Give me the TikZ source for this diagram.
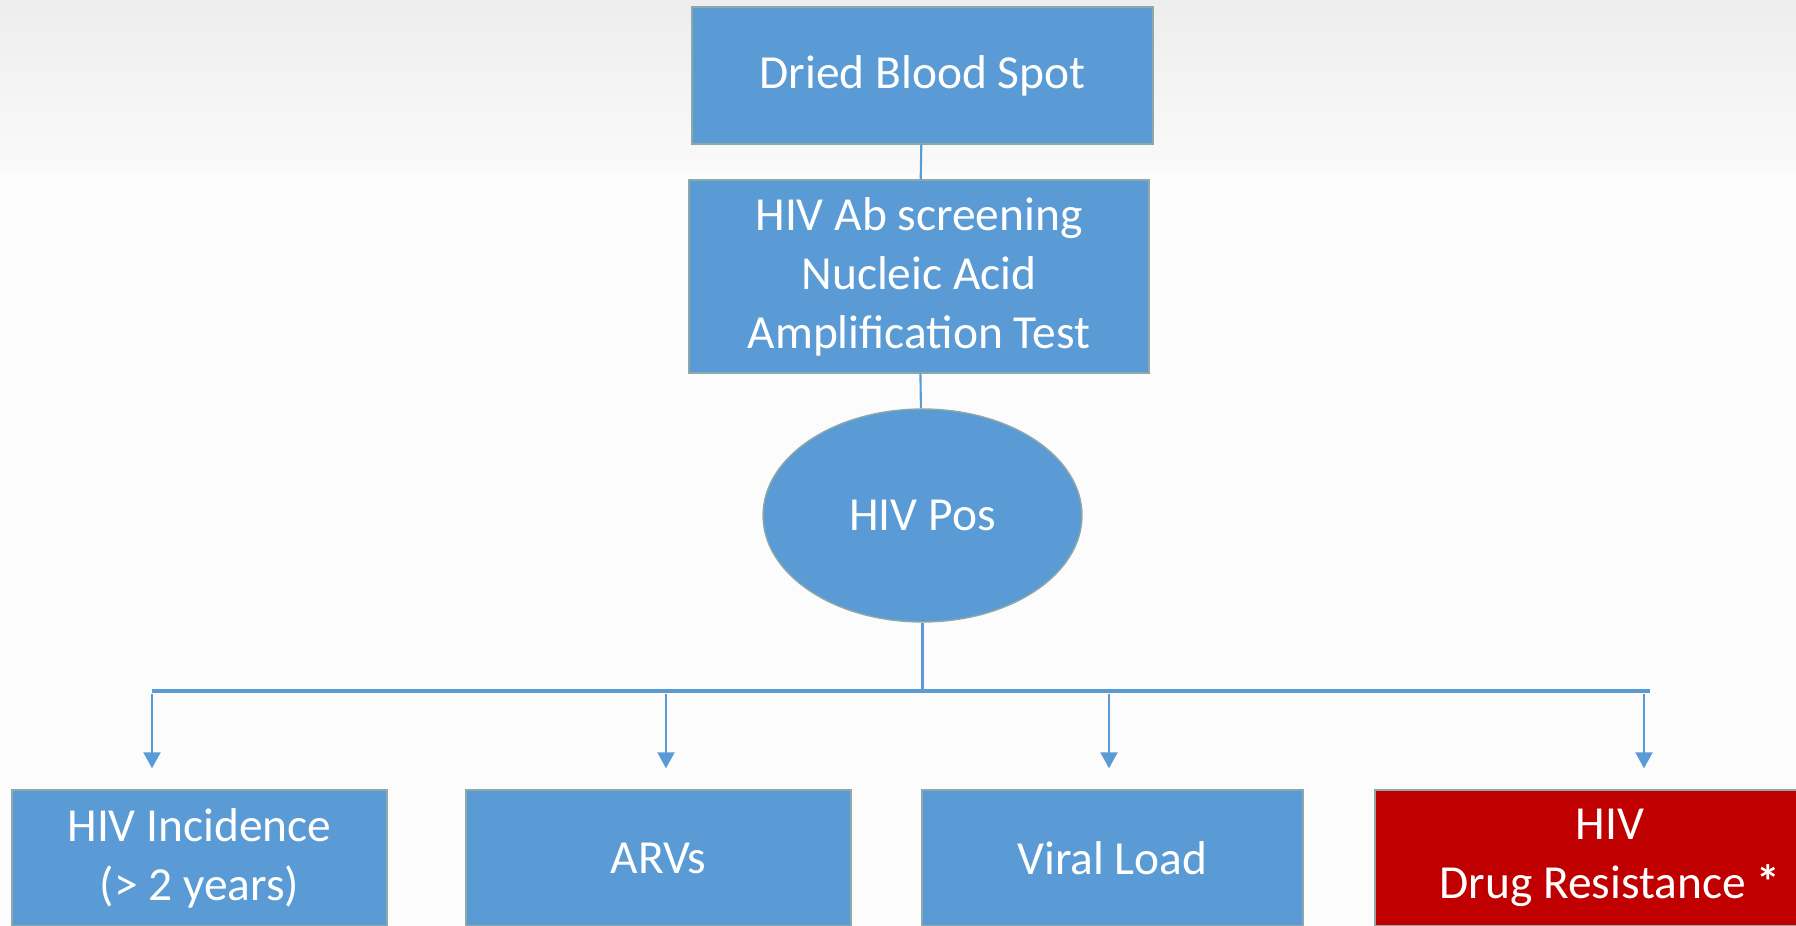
\documentclass[tikz,border=0pt]{standalone}
\usepackage{fontspec}
\setmainfont{Carlito}
\usepackage{tikz}
\usetikzlibrary{shapes,arrows.meta}
\definecolor{boxblue}{RGB}{91,155,213}
\definecolor{boxred}{RGB}{192,0,0}
\definecolor{boxedge}{RGB}{140,168,168}

\begin{document}
\begin{tikzpicture}[x=0.02cm,y=-0.02cm,
    box/.style={rectangle,draw=boxedge,line width=0.8pt,fill=boxblue,text=white,
        inner sep=0pt,align=center,font=\fontsize{27}{33.5}\selectfont},
    link/.style={draw=boxblue,line width=1.2pt},
    arr/.style={link,-{Triangle[width=0.34cm,length=0.32cm]},shorten >=0.42cm}]
        % background
        \useasboundingbox (0,0) rectangle (1796,926);
        \fill[gray!2] (0,0) rectangle (1796,926);
        \shade[top color=gray!14,bottom color=gray!4] (0,0) rectangle (1796,172);

        % main column
        \node[box,minimum width=9.22cm,minimum height=2.74cm] (dbs) at (922.5,75.5) {Dried Blood Spot};
        \node[box,minimum width=9.2cm,minimum height=3.86cm] (screen) at (919,276.5)
            {HIV Ab screening\\Nucleic Acid\\Amplification Test};
        \node[box,ellipse,minimum width=6.38cm,minimum height=4.26cm] (pos) at (922.5,515.5) {HIV Pos};

        \draw[link] (dbs) -- (screen);
        \draw[link] (screen) -- (pos);

        % distribution bar
        \coordinate (barl) at (152,691);
        \coordinate (barr) at (1650,691);
        \draw[link] (pos.south) -- (pos.south |- barl);
        \draw[draw=boxblue,line width=1.8pt] (barl) -- (barr);

        % outcome boxes
        \node[box,minimum width=7.5cm,minimum height=2.72cm] (incid) at (199.5,858) {HIV Incidence\\(> 2 years)};
        \node[box,minimum width=7.7cm,minimum height=2.72cm] (arv) at (658.5,858) {ARVs};
        \node[box,minimum width=7.62cm,minimum height=2.72cm] (vload) at (1112.5,858) {Viral Load};
        \node[box,fill=boxred,minimum width=9.4cm,minimum height=2.72cm] (drug) at (1610,858) {HIV\\Drug Resistance \textbf{*}};

        % arrows down to the outcomes
        \coordinate (a1) at (152,694);
        \coordinate (a2) at (666,694);
        \coordinate (a3) at (1109,694);
        \coordinate (a4) at (1644,694);
        \draw[arr] (a1) -- (incid.north -| a1);
        \draw[arr] (a2) -- (arv.north -| a2);
        \draw[arr] (a3) -- (vload.north -| a3);
        \draw[arr] (a4) -- (drug.north -| a4);
    \end{tikzpicture}
\end{document}
